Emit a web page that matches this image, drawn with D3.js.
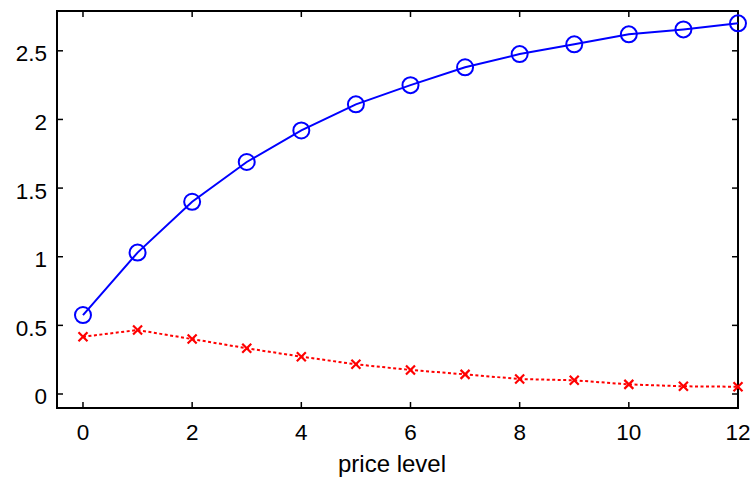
<!DOCTYPE html>
<html>
<head>
<meta charset="utf-8">
<script src="https://cdn.jsdelivr.net/npm/d3@7"></script>
<style>
  html, body { margin: 0; padding: 0; background: #fff; }
  svg { display: block; }
  text { font-family: Arial, "Liberation Sans", sans-serif; fill: #000; }
</style>
</head>
<body>
<svg id="chart" width="755" height="481"></svg>
<script>
// Data
const priceLevels = [0, 1, 2, 3, 4, 5, 6, 7, 8, 9, 10, 11, 12];
const blueSeries = [0.575, 1.03, 1.40, 1.69, 1.92, 2.11, 2.25, 2.38, 2.476, 2.547, 2.62, 2.656, 2.70];
const redSeries = [0.417, 0.466, 0.40, 0.333, 0.272, 0.216, 0.175, 0.143, 0.109, 0.10, 0.07, 0.056, 0.053];
const xTicks = [0, 2, 4, 6, 8, 10, 12];
const yTicks = [0, 0.5, 1, 1.5, 2, 2.5];
const xLabel = "price level";

(function () {
const svg = d3.select("#chart");
const pLeft = 57, pRight = 738, pTop = 11, pBottom = 408;

const x = d3.scaleLinear().domain([-0.476, 12]).range([pLeft, pRight]);
const y = d3.scaleLinear().domain([-0.102, 2.79]).range([pBottom, pTop]);

const tickLen = 6;
const fs = 22.5;
const g = svg.append("g");

// Ticks (inside, all four sides)
xTicks.forEach(t => {
  g.append("line").attr("x1", x(t)).attr("x2", x(t)).attr("y1", pBottom).attr("y2", pBottom - tickLen)
    .attr("stroke", "#000").attr("stroke-width", 1.5);
  g.append("line").attr("x1", x(t)).attr("x2", x(t)).attr("y1", pTop).attr("y2", pTop + tickLen)
    .attr("stroke", "#000").attr("stroke-width", 1.5);
  g.append("text").attr("x", x(t)).attr("y", 440).attr("text-anchor", "middle")
    .attr("font-size", fs).text(d3.format("d")(t));
});
yTicks.forEach(t => {
  g.append("line").attr("x1", pLeft).attr("x2", pLeft + tickLen).attr("y1", y(t)).attr("y2", y(t))
    .attr("stroke", "#000").attr("stroke-width", 1.5);
  g.append("line").attr("x1", pRight).attr("x2", pRight - tickLen).attr("y1", y(t)).attr("y2", y(t))
    .attr("stroke", "#000").attr("stroke-width", 1.5);
  g.append("text").attr("x", 47).attr("y", y(t) + 10.5).attr("text-anchor", "end")
    .attr("font-size", fs).text(String(t));
});

// Box
g.append("rect").attr("x", pLeft).attr("y", pTop).attr("width", pRight - pLeft).attr("height", pBottom - pTop)
  .attr("fill", "none").attr("stroke", "#000").attr("stroke-width", 2);

// X label
g.append("text").attr("x", 392).attr("y", 472).attr("text-anchor", "middle")
  .attr("font-size", 24).text(xLabel);

const blueData = priceLevels.map((p, i) => [p, blueSeries[i]]);
const redData = priceLevels.map((p, i) => [p, redSeries[i]]);
const line = d3.line().x(d => x(d[0])).y(d => y(d[1]));

// Blue line + circles
g.append("path").datum(blueData).attr("d", line).attr("fill", "none")
  .attr("stroke", "#0000ff").attr("stroke-width", 2);
g.selectAll("circle.b").data(blueData).enter().append("circle")
  .attr("cx", d => x(d[0])).attr("cy", d => y(d[1])).attr("r", 8)
  .attr("fill", "none").attr("stroke", "#0000ff").attr("stroke-width", 2);

// Red dashed + x markers
g.append("path").datum(redData).attr("d", line).attr("fill", "none")
  .attr("stroke", "#ff0000").attr("stroke-width", 2).attr("stroke-dasharray", "3,2.5");
const s = 4.5;
g.selectAll("path.xm").data(redData).enter().append("path")
  .attr("d", d => {
    const cx = x(d[0]), cy = y(d[1]);
    return `M${cx - s},${cy - s}L${cx + s},${cy + s}M${cx - s},${cy + s}L${cx + s},${cy - s}`;
  })
  .attr("stroke", "#ff0000").attr("stroke-width", 2.2).attr("fill", "none");
})();
</script>
</body>
</html>
